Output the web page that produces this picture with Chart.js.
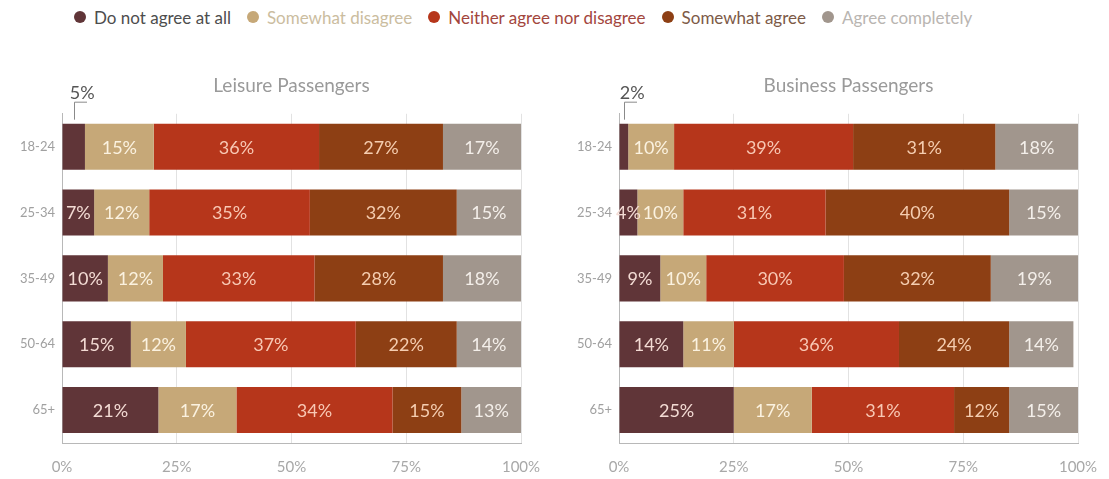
<!DOCTYPE html>
<html><head><meta charset="utf-8">
<script src="https://cdn.jsdelivr.net/npm/chart.js@4.4.1/dist/chart.umd.min.js"></script>
<style>
html,body{margin:0;padding:0;background:#fff;width:1109px;height:479px;overflow:hidden;position:relative;font-family:Lato,"Open Sans",sans-serif;}
#legend{position:absolute;top:5px;left:74px;height:24px;display:flex;align-items:center;gap:16px;}
.li{display:flex;align-items:center;font-size:17px;white-space:nowrap;}
.dot{width:12px;height:12px;border-radius:50%;margin-right:8px;}
#c1wrap{position:absolute;left:0;top:55px;width:583px;height:424px;}
#c2wrap{position:absolute;left:560px;top:55px;width:577px;height:424px;}
</style></head>
<body>
<div id="legend"></div>
<div id="c1wrap"><canvas id="c1"></canvas></div>
<div id="c2wrap"><canvas id="c2"></canvas></div>
<script>
const categories = ['18-24','25-34','35-49','50-64','65+'];
const seriesNames = ['Do not agree at all','Somewhat disagree','Neither agree nor disagree','Somewhat agree','Agree completely'];
const xTickLabels = ['0%','25%','50%','75%','100%'];

const leisureDoNotAgree       = [5, 7, 10, 15, 21];
const leisureSomewhatDisagree = [15, 12, 12, 12, 17];
const leisureNeither          = [36, 35, 33, 37, 34];
const leisureSomewhatAgree    = [27, 32, 28, 22, 15];
const leisureAgreeCompletely  = [17, 15, 18, 14, 13];

const businessDoNotAgree       = [2, 4, 9, 14, 25];
const businessSomewhatDisagree = [10, 10, 10, 11, 17];
const businessNeither          = [39, 31, 30, 36, 31];
const businessSomewhatAgree    = [31, 40, 32, 24, 12];
const businessAgreeCompletely  = [18, 15, 19, 14, 15];

const barColors = ['#603538', '#c6a878', '#b6361b', '#8d3f14', '#a1968d'];
const labelColors = ['#f3dbd4', '#fbf2e0', '#f8c8b4', '#f5cdb0', '#f4efea'];
const legendTextColors = ['#4d4d4d', '#cbbd9f', '#a3463d', '#7d5a47', '#b9b5b1'];
const FONT = 'Lato, "Open Sans", sans-serif';

// HTML legend (real text) built from the series names
const legendEl = document.getElementById('legend');
seriesNames.forEach((n, i) => {
  const it = document.createElement('div'); it.className = 'li';
  const d = document.createElement('span'); d.className = 'dot'; d.style.background = barColors[i];
  const t = document.createElement('span'); t.textContent = n; t.style.color = legendTextColors[i];
  it.appendChild(d); it.appendChild(t); legendEl.appendChild(it);
});

const segLabels = {
  id: 'segLabels',
  afterDatasetsDraw(chart) {
    const ctx = chart.ctx;
    const area = chart.chartArea;
    ctx.save();
    chart.data.datasets.forEach((ds, di) => {
      const meta = chart.getDatasetMeta(di);
      meta.data.forEach((bar, i) => {
        const v = ds.data[i];
        const p = bar.getProps(['x', 'y', 'base', 'height'], true);
        const right = Math.min(p.x, area.right);
        const cx = (right + p.base) / 2;
        if (di === 0 && i === 0 && v < 6) {
          const top = p.y - p.height / 2;
          ctx.strokeStyle = '#8a8a8a'; ctx.lineWidth = 1;
          ctx.beginPath();
          ctx.moveTo(Math.round(cx) + 0.5, top - 4);
          ctx.lineTo(Math.round(cx) + 0.5, top - 21.5);
          ctx.lineTo(Math.round(cx) + 13, top - 21.5);
          ctx.stroke();
          ctx.fillStyle = '#555555';
          ctx.textAlign = 'left';
          ctx.font = '18px ' + FONT;
          ctx.textBaseline = 'alphabetic';
          ctx.fillText(v + '%', cx - 4, top - 25);
        } else {
          ctx.fillStyle = labelColors[di];
          ctx.textAlign = 'center';
          ctx.textBaseline = 'middle';
          ctx.font = '18px ' + FONT;
          ctx.fillText(v + '%', cx, p.y + 1);
        }
      });
    });
    ctx.restore();
  }
};

function makeChart(id, title, series, sideWidth) {
  return new Chart(document.getElementById(id), {
    type: 'bar',
    data: {
      labels: categories,
      datasets: series.map((d, i) => ({
        label: seriesNames[i], data: d, backgroundColor: barColors[i],
        borderWidth: 0, barPercentage: 0.7, categoryPercentage: 1.0, stack: 's'
      }))
    },
    options: {
      indexAxis: 'y', responsive: true, maintainAspectRatio: false, animation: false,
      layout: { padding: 0 },
      plugins: {
        legend: { display: false }, tooltip: { enabled: false },
        title: { display: true, text: title, color: '#9a9a9a',
          font: { size: 19, family: FONT, weight: 'normal' }, padding: { top: 19, bottom: 17 } }
      },
      scales: {
        x: {
          stacked: true, min: 0, max: 100,
          afterFit: s => { s.height = 36; },
          grid: { color: '#e2e2e2', drawTicks: false },
          border: { color: '#b8b8b8' },
          ticks: { stepSize: 25, padding: 15, color: '#a8a8a8', font: { size: 15, family: FONT },
            callback: (v, i) => xTickLabels[i] }
        },
        y: {
          stacked: true,
          afterFit: s => { s.width = sideWidth; },
          grid: { display: false, drawTicks: false },
          border: { color: '#b8b8b8' },
          ticks: { padding: 7, color: '#a0a0a0', font: { size: 13, family: FONT } }
        },
        yRight: {
          type: 'category', position: 'right', display: true,
          afterFit: s => { s.width = sideWidth; },
          grid: { display: false, drawTicks: false },
          border: { display: false },
          ticks: { display: false }
        }
      }
    },
    plugins: [segLabels]
  });
}

makeChart('c1', 'Leisure Passengers',
  [leisureDoNotAgree, leisureSomewhatDisagree, leisureNeither, leisureSomewhatAgree, leisureAgreeCompletely], 62);
makeChart('c2', 'Business Passengers',
  [businessDoNotAgree, businessSomewhatDisagree, businessNeither, businessSomewhatAgree, businessAgreeCompletely], 59);
</script>
</body></html>
